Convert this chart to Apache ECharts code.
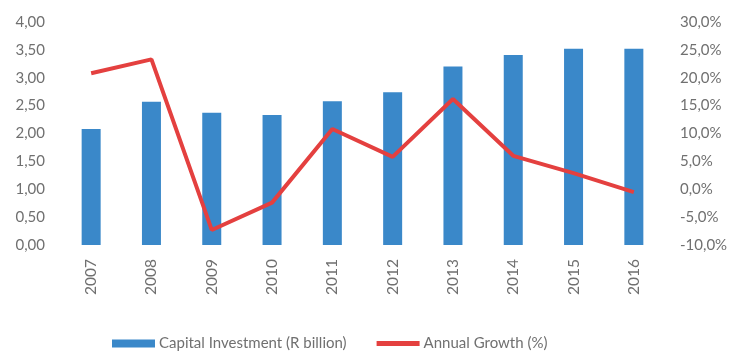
<!DOCTYPE html>
<html>
<head>
<meta charset="utf-8">
<script src="https://cdn.jsdelivr.net/npm/echarts@6/dist/echarts.min.js"></script>
<style>
  html, body { margin: 0; padding: 0; background: #ffffff; }
  #chart { width: 731px; height: 353px; }
</style>
</head>
<body>
<div id="chart"></div>
<script>
// Years on the category axis
const years = ['2007', '2008', '2009', '2010', '2011', '2012', '2013', '2014', '2015', '2016'];
// Capital investment, R billion (left axis)
const capitalInvestment = [2.08, 2.57, 2.37, 2.33, 2.58, 2.74, 3.20, 3.41, 3.52, 3.52];
// Annual growth, % (right axis)
const annualGrowth = [20.8, 23.3, -7.3, -2.4, 10.8, 5.8, 16.2, 6.0, 2.9, -0.5];

const font = 'Lato, "Open Sans", sans-serif';
const labelColor = '#707070';
const barColor = '#3a88c9';
const lineColor = '#e4403f';

const chart = echarts.init(document.getElementById('chart'), null, { renderer: 'canvas' });
chart.setOption({
  animation: false,
  grid: { left: 61, right: 67, top: 22, bottom: 108, containLabel: false },
  legend: {
    bottom: -3,
    left: 107,
    itemGap: 30,
    itemWidth: 43,
    itemHeight: 8,
    textStyle: { color: labelColor, fontFamily: font, fontSize: 15, padding: [0, 0, 0, -1] },
    data: [
      { name: 'Capital Investment (R billion)', icon: 'rect' },
      {
        name: 'Annual Growth (%)',
        icon: 'path://M0,0H44V5H0Z',
        itemStyle: { color: lineColor },
        lineStyle: { opacity: 0 }
      }
    ]
  },
  xAxis: {
    type: 'category',
    data: years,
    axisLine: { show: false },
    axisTick: { show: false },
    axisLabel: { rotate: 90, color: labelColor, fontFamily: font, fontSize: 15.5, margin: 14 }
  },
  yAxis: [
    {
      type: 'value', min: 0, max: 4, interval: 0.5,
      axisLine: { show: false }, axisTick: { show: false },
      splitLine: { show: false },
      axisLabel: {
        color: labelColor, fontFamily: font, fontSize: 15, margin: 16,
        formatter: v => v.toFixed(2).replace('.', ',')
      }
    },
    {
      type: 'value', min: -10, max: 30, interval: 5,
      axisLine: { show: false }, axisTick: { show: false },
      splitLine: { show: false },
      axisLabel: {
        color: labelColor, fontFamily: font, fontSize: 15, margin: 16,
        formatter: v => v.toFixed(1).replace('.', ',') + '%'
      }
    }
  ],
  series: [
    {
      name: 'Capital Investment (R billion)',
      type: 'bar',
      yAxisIndex: 0,
      data: capitalInvestment,
      barWidth: 19,
      itemStyle: { color: barColor }
    },
    {
      name: 'Annual Growth (%)',
      type: 'line',
      yAxisIndex: 1,
      data: annualGrowth,
      symbol: 'none',
      lineStyle: { color: lineColor, width: 4 },
      itemStyle: { color: lineColor }
    }
  ]
});
</script>
</body>
</html>
